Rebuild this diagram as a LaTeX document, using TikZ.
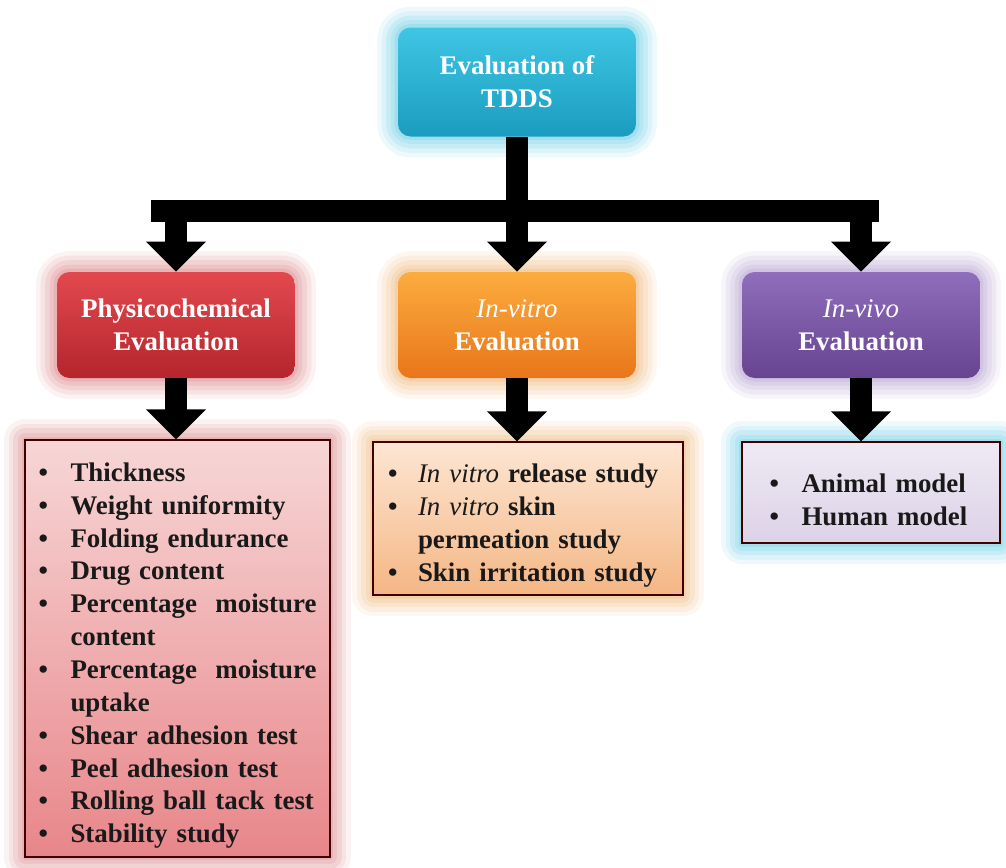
\documentclass[tikz,border=0pt]{standalone}
\usepackage{fontspec}
\setmainfont{Liberation Serif}
\usepackage{tikz}
\usetikzlibrary{arrows.meta, positioning}
\usepackage{xcolor}

\definecolor{cyanTop}{HTML}{3FC6E3}
\definecolor{cyanBot}{HTML}{1A9CC0}
\definecolor{cyanGlow}{HTML}{45C0DE}
\definecolor{redTop}{HTML}{E2494F}
\definecolor{redBot}{HTML}{B5252C}
\definecolor{redGlow}{HTML}{D46A6E}
\definecolor{orTop}{HTML}{FCAC3E}
\definecolor{orBot}{HTML}{E8761A}
\definecolor{orGlow}{HTML}{EBA45A}
\definecolor{puTop}{HTML}{8F6EBB}
\definecolor{puBot}{HTML}{674391}
\definecolor{puGlow}{HTML}{A28BC6}
\definecolor{pinkTop}{HTML}{F7D6D6}
\definecolor{pinkBot}{HTML}{E8868A}
\definecolor{peachTop}{HTML}{FDE6D3}
\definecolor{peachBot}{HTML}{F4B684}
\definecolor{lavTop}{HTML}{EEEAF4}
\definecolor{lavBot}{HTML}{DCD2E7}

% one bullet line of a list box
\newlength{\bulletgap}
\setlength{\bulletgap}{0.64cm}
\newcommand{\bitem}[1]{\par\noindent\hangindent=\bulletgap\hangafter=1\makebox[\bulletgap][l]{\textbullet}#1}

\tikzset{
  glow/.style={preaction={draw=#1, opacity=.09, line width=0.84cm, line join=round},
               preaction={draw=#1, opacity=.11, line width=0.66cm, line join=round},
               preaction={draw=#1, opacity=.13, line width=0.48cm, line join=round},
               preaction={draw=#1, opacity=.15, line width=0.30cm, line join=round},
               preaction={draw=#1, opacity=.18, line width=0.14cm, line join=round}},
  headbox/.style={rounded corners=0.25cm, minimum width=4.76cm, minimum height=2.12cm,
                  align=center, text=white, font=\fontsize{15.3}{18.7}\selectfont\bfseries},
  listbox/.style={draw=black!75!red, line width=0.7pt, inner xsep=0.27cm,
                  text=black!90, font=\fontsize{15.3}{18.7}\selectfont\bfseries},
  flowarrow/.style={line width=0.44cm, -{Triangle[width=1.16cm, length=0.6cm]}},
  barline/.style={line width=0.44cm}
}

\begin{document}
\begin{tikzpicture}[x=0.02cm, y=-0.02cm]
  \useasboundingbox (0,0) rectangle (1006,867);

  % Top box
  \node[headbox, glow=cyanGlow, top color=cyanTop, bottom color=cyanBot, minimum height=2.18cm]
    (top) at (517,82) {Evaluation of\\TDDS};

  % Three evaluation boxes
  \node[headbox, glow=redGlow, top color=redTop, bottom color=redBot] (phys) at (176,325)
    {Physicochemical\\Evaluation};
  \node[headbox, glow=orGlow, top color=orTop, bottom color=orBot] (vitro) at (517,325)
    {{\mdseries\itshape In-vitro}\\Evaluation};
  \node[headbox, glow=puGlow, top color=puTop, bottom color=puBot] (vivo) at (861,325)
    {{\mdseries\itshape In-vivo}\\Evaluation};

  % List boxes
  \node[listbox, glow=redGlow, top color=pinkTop, bottom color=pinkBot,
        minimum width=6.1cm, minimum height=8.34cm, text width=5.56cm] (physlist) at (177.5,648.5)
    {\bitem{Thickness}
     \bitem{Weight uniformity}
     \bitem{Folding endurance}
     \bitem{Drug content}
     \bitem{Percentage\hfill moisture\newline content}
     \bitem{Percentage\hfill moisture\newline uptake}
     \bitem{Shear adhesion test}
     \bitem{Peel adhesion test}
     \bitem{Rolling ball tack test}
     \bitem{Stability study}};
  \node[listbox, glow=orGlow, top color=peachTop, bottom color=peachBot, inner xsep=0.3cm,
        minimum width=6.2cm, minimum height=3.06cm, text width=5.6cm] (vitrolist) at (528,518.5)
    {\setlength{\bulletgap}{0.6cm}%
     \bitem{{\mdseries\itshape In vitro} release study}
     \bitem{{\mdseries\itshape In vitro} skin\newline permeation study}
     \bitem{Skin irritation study}};
  \node[listbox, glow=cyanGlow, top color=lavTop, bottom color=lavBot, inner xsep=0.55cm,
        minimum width=5.16cm, minimum height=2.02cm, text width=4.06cm] (vivolist) at (871,492.5)
    {\bitem{Animal model}
     \bitem{Human model}};

  % Connectors
  \coordinate (hub) at (517,211);
  \draw[barline] (top.south) -- (hub);
  \draw[barline] ([xshift=-0.5cm]phys.north |- hub) -- ([xshift=0.35cm]vivo.north |- hub);
  \draw[flowarrow] (phys.north |- hub) -- (phys.north);
  \draw[flowarrow] (vitro.north |- hub) -- (vitro.north);
  \draw[flowarrow] (vivo.north |- hub) -- (vivo.north);

  \draw[flowarrow] (phys.south) -- (phys.south |- physlist.north);
  \draw[flowarrow] (vitro.south) -- (vitro.south |- vitrolist.north);
  \draw[flowarrow] (vivo.south) -- (vivo.south |- vivolist.north);
\end{tikzpicture}
\end{document}
